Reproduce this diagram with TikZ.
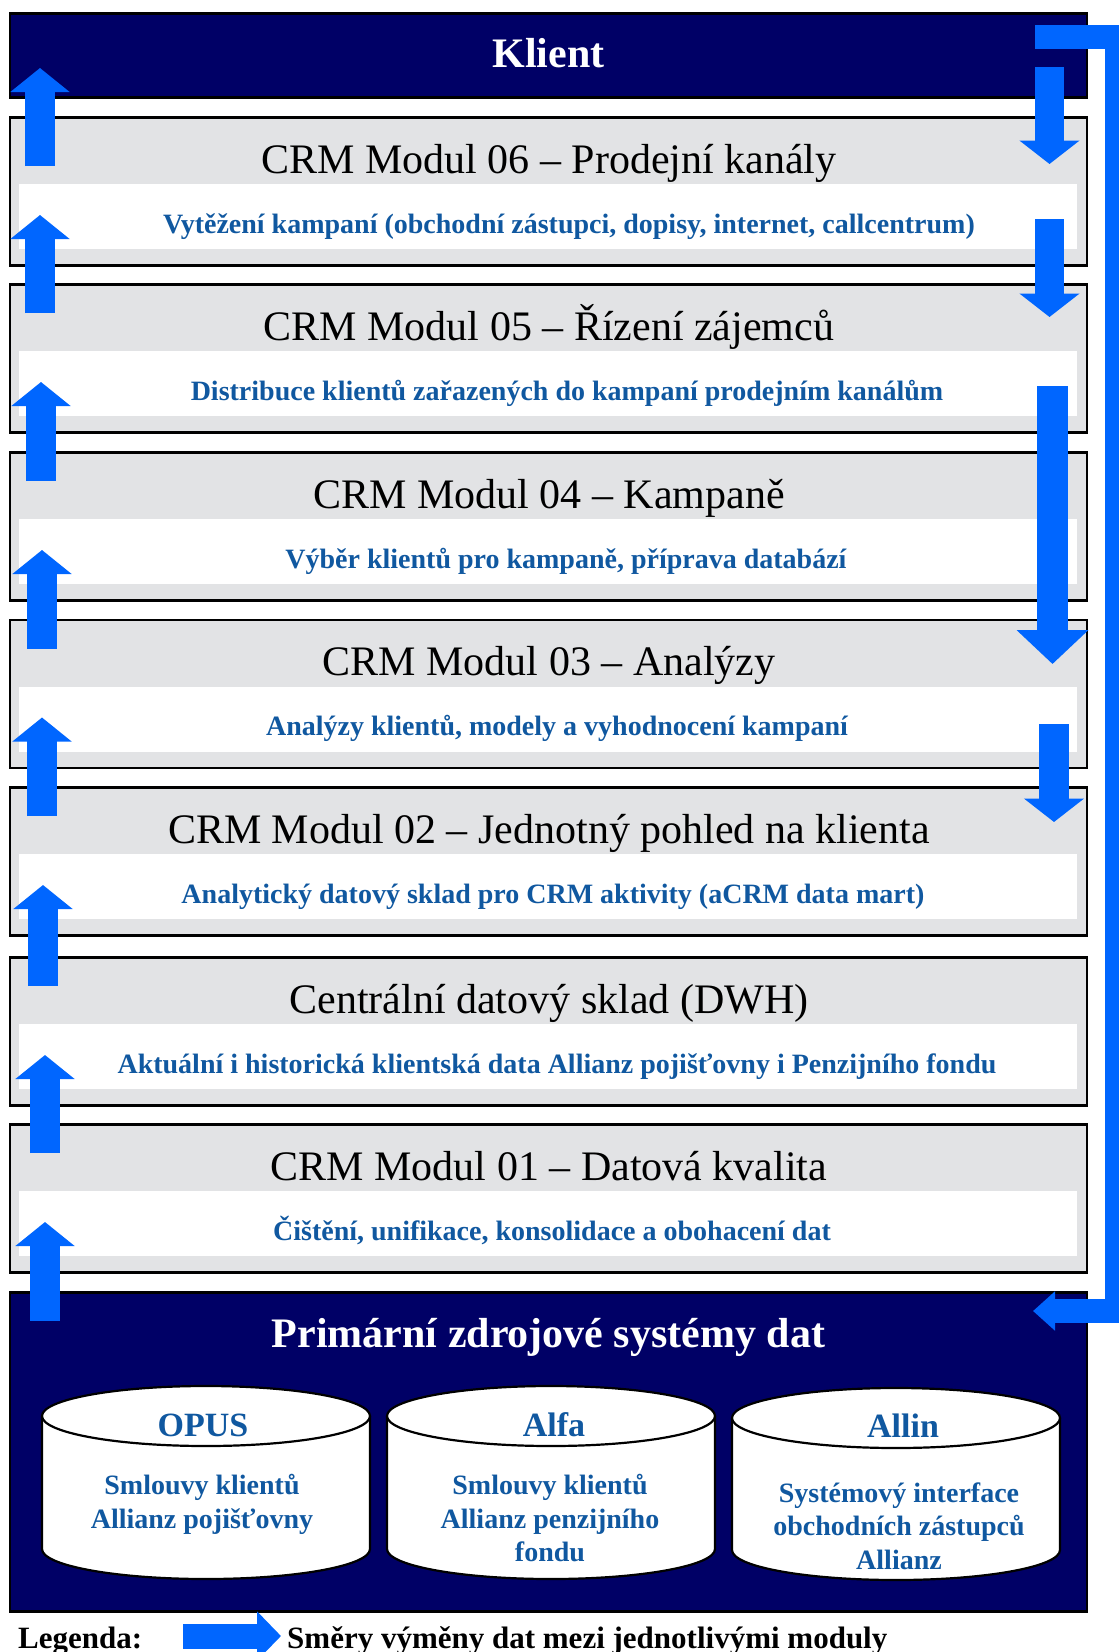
\documentclass[tikz,border=0pt]{standalone}
\usepackage{fontspec}
\setmainfont{Liberation Serif}
\usetikzlibrary{arrows.meta}
\definecolor{navy}{RGB}{0,0,102}
\definecolor{flow}{RGB}{0,102,255}
\definecolor{txtblue}{RGB}{16,88,160}
\definecolor{modgray}{RGB}{226,227,229}

\begin{document}
\begin{tikzpicture}[x=1pt, y=-1pt,
  modbox/.style={draw, line width=2.8pt, fill=modgray, minimum width=1077pt, minimum height=148pt, inner sep=0pt, outer sep=0pt},
  headbox/.style={modbox, fill=navy},
  modtitle/.style={anchor=base, inner sep=0pt, font=\fontsize{42}{50}\selectfont},
  headtitle/.style={anchor=base, inner sep=0pt, text=white, font=\bfseries\fontsize{42}{50}\selectfont},
  modsub/.style={anchor=base, inner sep=0pt, text=txtblue, font=\bfseries\fontsize{28}{33.5}\selectfont},
  uparr/.style={draw=flow, line width=30pt, -{Triangle[length=24pt, width=58pt]}},
  downarr/.style={draw=flow, line width=29.5pt, -{Triangle[length=23.5pt, width=59pt]}},
  dbbody/.style={draw, line width=2.2pt, fill=white},
  dbname/.style={anchor=base, inner sep=0pt, text=txtblue, font=\bfseries\fontsize{34}{40}\selectfont},
  dbtext/.style={anchor=north, inner sep=0pt, align=center, text=txtblue, font=\bfseries\fontsize{28}{33.5}\selectfont},
  legtext/.style={anchor=base west, inner sep=0pt, font=\bfseries\fontsize{31}{37}\selectfont}]
  \useasboundingbox (0,0) rectangle (1119,1652);

  % client and the module layers
  \node[headbox, minimum height=84pt] (K) at (548.5,55.5) {};
  \node[headtitle] (Kt) at (548.5,67) {Klient};

  \node[modbox] (M6) at (548.5,191.5) {};
  \fill[white] ([shift={(9,66.5)}]M6.north west) rectangle ([shift={(-10,131.5)}]M6.north east);
  \node[modtitle] (M6t) at (549,173) {CRM Modul 06 – Prodejní kanály};
  \node[modsub] (M6s) at (569,233) {Vytěžení kampaní (obchodní zástupci, dopisy, internet, callcentrum)};

  \node[modbox] (M5) at (548.5,358.5) {};
  \fill[white] ([shift={(9,66.5)}]M5.north west) rectangle ([shift={(-10,131.5)}]M5.north east);
  \node[modtitle] (M5t) at (549,340) {CRM Modul 05 – Řízení zájemců};
  \node[modsub] (M5s) at (567,400) {Distribuce klientů zařazených do kampaní prodejním kanálům};

  \node[modbox] (M4) at (548.5,526.5) {};
  \fill[white] ([shift={(9,66.5)}]M4.north west) rectangle ([shift={(-10,131.5)}]M4.north east);
  \node[modtitle] (M4t) at (549,508) {CRM Modul 04 – Kampaně};
  \node[modsub] (M4s) at (566,568) {Výběr klientů pro kampaně, příprava databází};

  \node[modbox] (M3) at (548.5,694) {};
  \fill[white] ([shift={(9,66.5)}]M3.north west) rectangle ([shift={(-10,131.5)}]M3.north east);
  \node[modtitle] (M3t) at (549,675.5) {CRM Modul 03 – Analýzy};
  \node[modsub] (M3s) at (557,735.5) {Analýzy klientů, modely a vyhodnocení kampaní};

  \node[modbox] (M2) at (548.5,861.5) {};
  \fill[white] ([shift={(9,66.5)}]M2.north west) rectangle ([shift={(-10,131.5)}]M2.north east);
  \node[modtitle] (M2t) at (549,843) {CRM Modul 02 – Jednotný pohled na klienta};
  \node[modsub] (M2s) at (553,903) {Analytický datový sklad pro CRM aktivity (aCRM data mart)};

  \node[modbox] (DWH) at (548.5,1031.5) {};
  \fill[white] ([shift={(9,66.5)}]DWH.north west) rectangle ([shift={(-10,131.5)}]DWH.north east);
  \node[modtitle] (DWHt) at (549,1013) {Centrální datový sklad (DWH)};
  \node[modsub] (DWHs) at (557,1073) {Aktuální i historická klientská data Allianz pojišťovny i Penzijního fondu};

  \node[modbox] (M1) at (548.5,1198.5) {};
  \fill[white] ([shift={(9,66.5)}]M1.north west) rectangle ([shift={(-10,131.5)}]M1.north east);
  \node[modtitle] (M1t) at (549,1180) {CRM Modul 01 – Datová kvalita};
  \node[modsub] (M1s) at (552,1240) {Čištění, unifikace, konsolidace a obohacení dat};

  % primary source systems
  \node[headbox, minimum height=319pt] (P) at (548.5,1452) {};
  \node[headtitle] (Pt) at (548.5,1347) {Primární zdrojové systémy dat};

  \draw[dbbody] (42,1416) -- (42,1549) arc[start angle=180, end angle=0, x radius=164, y radius=30] -- (370,1416);
  \draw[dbbody] (206,1416) ellipse [x radius=164, y radius=30];
  \node[dbname] (OPUS) at (203,1436) {OPUS};
  \node[dbtext] (OPUSd) at (202,1474.5) {Smlouvy klientů\\Allianz pojišťovny};

  \draw[dbbody] (387,1416) -- (387,1549) arc[start angle=180, end angle=0, x radius=164, y radius=30] -- (715,1416);
  \draw[dbbody] (551,1416) ellipse [x radius=164, y radius=30];
  \node[dbname] (Alfa) at (554,1436) {Alfa};
  \node[dbtext] (Alfad) at (550,1474.5) {Smlouvy klientů\\Allianz penzijního\\fondu};

  \draw[dbbody] (732,1418) -- (732,1550) arc[start angle=180, end angle=0, x radius=164, y radius=30] -- (1060,1418);
  \draw[dbbody] (896,1418) ellipse [x radius=164, y radius=30];
  \node[dbname] (Allin) at (903,1437) {Allin};
  \node[dbtext] (Allind) at (899,1482.5) {Systémový interface\\obchodních zástupců\\Allianz};

  % data flows up
  \draw[uparr] ([shift={(30,48.5)}]M6.north west) -- ([shift={(30,-29.5)}]K.south west);
  \draw[uparr] ([shift={(30,28.5)}]M5.north west) -- ([shift={(30,-50.5)}]M6.south west);
  \draw[uparr] ([shift={(31,28.5)}]M4.north west) -- ([shift={(31,-50.5)}]M5.south west);
  \draw[uparr] ([shift={(32,28.5)}]M3.north west) -- ([shift={(32,-50.5)}]M4.south west);
  \draw[uparr] ([shift={(32,28.5)}]M2.north west) -- ([shift={(32,-50.5)}]M3.south west);
  \draw[uparr] ([shift={(33,28.5)}]DWH.north west) -- ([shift={(33,-50.5)}]M2.south west);
  \draw[uparr] ([shift={(35,28.5)}]M1.north west) -- ([shift={(35,-50.5)}]DWH.south west);
  \draw[uparr] ([shift={(35,28)}]P.north west) -- ([shift={(35,-50.5)}]M1.south west);

  % data flows down
  \draw[downarr] ([shift={(-37.5,-30.5)}]K.south east) -- ([shift={(-37.5,46.5)}]M6.north east);
  \draw[downarr] ([shift={(-37.5,-46.5)}]M6.south east) -- ([shift={(-37.5,32.5)}]M5.north east);
  \draw[downarr, line width=31pt, -{Triangle[length=34pt, width=70pt]}] ([shift={(-34.5,-46.5)}]M5.south east) -- ([shift={(-34.5,44)}]M3.north east);
  \draw[downarr] ([shift={(-33,-44)}]M3.south east) -- ([shift={(-33,34.5)}]M2.north east);

  % return to the source systems
  \draw[draw=flow, line width=24pt, line join=miter, -{Triangle[length=22pt, width=38pt]}]
    ([shift={(-52,-61)}]K.south east) -- ++(82,0) |- ([shift={(-54,18.5)}]P.north east);

  % legend
  \node[legtext] (Leg) at (18,1648) {Legenda:};
  \coordinate (LegA) at (183,1636);
  \coordinate (LegB) at (281,1636);
  \draw[draw=flow, line width=25pt, -{Triangle[length=24pt, width=48pt]}] (LegA) -- (LegB);
  \node[legtext] (LegT) at (287,1648) {Směry výměny dat mezi jednotlivými moduly};
\end{tikzpicture}
\end{document}
